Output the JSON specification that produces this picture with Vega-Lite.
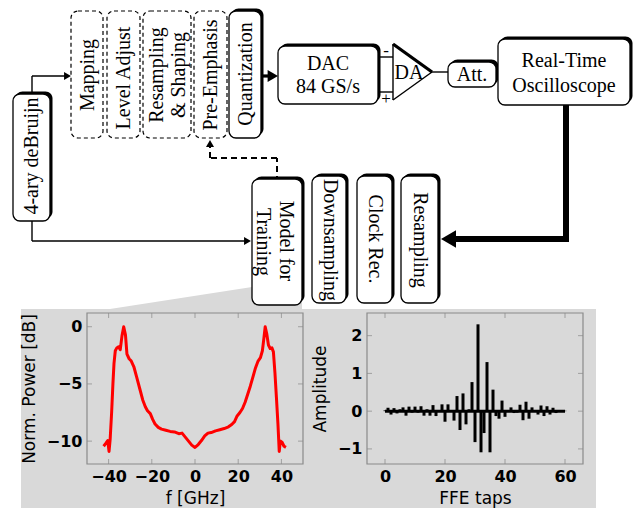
{
  "$schema": "https://vega.github.io/schema/vega-lite/v6.json",
  "width": 634,
  "height": 508,
  "autosize": {"type": "none"},
  "padding": 0,
  "background": "white",
  "config": {
    "view": {"stroke": null},
    "axis": {"labelFont": "DejaVu Sans", "labelFontWeight": "bold", "labelFontSize": 16, "labelColor": "black", "titleFont": "DejaVu Sans", "titleFontWeight": "normal", "titleFontSize": 17, "titleColor": "black", "ticks": false, "domain": false, "grid": false, "labelFlush": false}
  },
  "datasets": {
    "panel": [{"x1": 21, "x2": 596, "y1": 309, "y2": 508}],
    "wedge": [{"x": 110, "top": 309, "bottom": 309}, {"x": 252, "top": 287, "bottom": 309}, {"x": 302, "top": 287, "bottom": 309}],
    "boxes": [
      {"name": "4-ary deBruijn", "stage": "block", "x1": 13, "x2": 50, "y1": 94, "y2": 221},
      {"name": "Mapping", "stage": "dsp", "x1": 71, "x2": 103, "y1": 11, "y2": 138},
      {"name": "Level Adjust", "stage": "dsp", "x1": 107, "x2": 140, "y1": 11, "y2": 138},
      {"name": "Resampling & Shaping", "stage": "dsp", "x1": 143, "x2": 191, "y1": 11, "y2": 138},
      {"name": "Pre-Emphasis", "stage": "dsp", "x1": 194, "x2": 227, "y1": 11, "y2": 138},
      {"name": "Quantization", "stage": "block", "x1": 229, "x2": 261, "y1": 11, "y2": 138},
      {"name": "DAC", "stage": "block", "x1": 278, "x2": 378, "y1": 46, "y2": 104},
      {"name": "Att.", "stage": "block", "x1": 448, "x2": 496, "y1": 62, "y2": 87},
      {"name": "Real-Time Oscilloscope", "stage": "block", "x1": 498, "x2": 630, "y1": 39, "y2": 105},
      {"name": "Model for Training", "stage": "block", "x1": 252, "x2": 302, "y1": 179, "y2": 305},
      {"name": "Downsampling", "stage": "block", "x1": 312, "x2": 346, "y1": 176, "y2": 303},
      {"name": "Clock Rec.", "stage": "block", "x1": 357, "x2": 392, "y1": 176, "y2": 303},
      {"name": "Resampling", "stage": "block", "x1": 401, "x2": 438, "y1": 176, "y2": 303}
    ],
    "lines": [
      {"x1": 32, "y1": 100, "x2": 32, "y2": 76, "kind": "signal"},
      {"x1": 32, "y1": 76, "x2": 68, "y2": 76, "kind": "signal"},
      {"x1": 32, "y1": 215, "x2": 32, "y2": 241, "kind": "signal"},
      {"x1": 32, "y1": 241, "x2": 248, "y2": 241, "kind": "signal"},
      {"x1": 378, "y1": 57, "x2": 393, "y2": 57, "kind": "signal"},
      {"x1": 378, "y1": 92, "x2": 393, "y2": 92, "kind": "signal"},
      {"x1": 393, "y1": 44, "x2": 393, "y2": 100, "kind": "signal"},
      {"x1": 393, "y1": 100, "x2": 432, "y2": 72, "kind": "signal"},
      {"x1": 432, "y1": 72, "x2": 450, "y2": 72, "kind": "signal"},
      {"x1": 393, "y1": 44, "x2": 432, "y2": 72, "kind": "drive"},
      {"x1": 258, "y1": 76, "x2": 273, "y2": 76, "kind": "drive"},
      {"x1": 566, "y1": 100, "x2": 566, "y2": 239, "kind": "main"},
      {"x1": 566, "y1": 239, "x2": 449, "y2": 239, "kind": "main"},
      {"x1": 277, "y1": 182, "x2": 277, "y2": 158, "kind": "feedback"},
      {"x1": 277, "y1": 158, "x2": 210, "y2": 158, "kind": "feedback"},
      {"x1": 210, "y1": 158, "x2": 210, "y2": 145, "kind": "feedback"}
    ],
    "arrows": [
      {"x": 67.5, "y": 76, "dir": "right", "kind": "signal"},
      {"x": 247.5, "y": 241, "dir": "right", "kind": "signal"},
      {"x": 210, "y": 143.5, "dir": "up", "kind": "signal"},
      {"x": 272.8, "y": 76, "dir": "right", "kind": "drive"},
      {"x": 448.5, "y": 239, "dir": "left", "kind": "main"}
    ],
    "texts": [
      {"label": "4-ary deBruijn", "x": 32, "y": 156, "orient": "up"},
      {"label": "Mapping", "x": 88, "y": 75, "orient": "up"},
      {"label": "Level Adjust", "x": 124, "y": 78, "orient": "up"},
      {"label": "Resampling", "x": 157, "y": 75, "orient": "up"},
      {"label": "& Shaping", "x": 179, "y": 75, "orient": "up"},
      {"label": "Pre-Emphasis", "x": 211, "y": 75, "orient": "up"},
      {"label": "Quantization", "x": 246, "y": 74, "orient": "up"},
      {"label": "DAC", "x": 328, "y": 64, "orient": "h"},
      {"label": "84 GS/s", "x": 328, "y": 87, "orient": "h"},
      {"label": "DA", "x": 409, "y": 73, "orient": "h"},
      {"label": "Att.", "x": 472, "y": 75, "orient": "h"},
      {"label": "Real-Time", "x": 564, "y": 61, "orient": "h"},
      {"label": "Oscilloscope", "x": 564, "y": 86, "orient": "h"},
      {"label": "Model for", "x": 286, "y": 241, "orient": "down"},
      {"label": "Training", "x": 263, "y": 242, "orient": "down"},
      {"label": "Downsampling", "x": 330, "y": 240, "orient": "down"},
      {"label": "Clock Rec.", "x": 375, "y": 239, "orient": "down"},
      {"label": "Resampling", "x": 420, "y": 240, "orient": "down"}
    ],
    "signs": [
      {"label": "-", "x": 386, "y": 51},
      {"label": "+", "x": 386, "y": 99}
    ],
    "spectrum": [
      {"f": -42.3, "db": -10.45}, {"f": -41.3, "db": -10.2}, {"f": -40.4, "db": -9.95}, {"f": -39.8, "db": -10.9}, {"f": -39.3, "db": -9.9},
      {"f": -38.6, "db": -7.5}, {"f": -38.0, "db": -5.0}, {"f": -37.5, "db": -3.2}, {"f": -36.9, "db": -2.1}, {"f": -36.2, "db": -1.85},
      {"f": -35.4, "db": -1.75}, {"f": -34.6, "db": -2.0}, {"f": -33.8, "db": -0.8}, {"f": -33.0, "db": 0.0}, {"f": -32.2, "db": -0.7},
      {"f": -31.5, "db": -2.4}, {"f": -30.5, "db": -2.8}, {"f": -29.5, "db": -3.0}, {"f": -28.3, "db": -3.5}, {"f": -27.0, "db": -4.4},
      {"f": -25.6, "db": -5.4}, {"f": -24.2, "db": -6.4}, {"f": -23.0, "db": -7.0}, {"f": -22.0, "db": -7.35}, {"f": -20.7, "db": -7.6},
      {"f": -19.6, "db": -8.1}, {"f": -18.5, "db": -8.5}, {"f": -17.0, "db": -8.8}, {"f": -15.5, "db": -8.95}, {"f": -13.5, "db": -9.05},
      {"f": -11.5, "db": -9.15}, {"f": -9.5, "db": -9.2}, {"f": -7.5, "db": -9.35}, {"f": -6.0, "db": -9.3}, {"f": -4.5, "db": -9.65},
      {"f": -3.0, "db": -10.0}, {"f": -1.5, "db": -10.35}, {"f": 0.0, "db": -10.55}, {"f": 1.5, "db": -10.3}, {"f": 3.0, "db": -9.95},
      {"f": 4.5, "db": -9.55}, {"f": 6.0, "db": -9.3}, {"f": 7.5, "db": -9.25}, {"f": 9.5, "db": -9.1}, {"f": 11.5, "db": -9.0},
      {"f": 13.5, "db": -8.9}, {"f": 15.5, "db": -8.75}, {"f": 17.0, "db": -8.55}, {"f": 18.3, "db": -8.3}, {"f": 19.5, "db": -7.8},
      {"f": 20.8, "db": -7.5}, {"f": 22.0, "db": -7.15}, {"f": 23.2, "db": -6.6}, {"f": 24.4, "db": -5.9}, {"f": 25.6, "db": -5.2},
      {"f": 26.8, "db": -4.4}, {"f": 28.0, "db": -3.6}, {"f": 29.2, "db": -3.0}, {"f": 30.3, "db": -2.7}, {"f": 31.2, "db": -2.1},
      {"f": 31.9, "db": -1.0}, {"f": 32.5, "db": 0.0}, {"f": 33.2, "db": -0.6}, {"f": 34.0, "db": -1.6}, {"f": 34.8, "db": -1.9},
      {"f": 35.6, "db": -1.85}, {"f": 36.3, "db": -2.2}, {"f": 37.0, "db": -4.0}, {"f": 37.7, "db": -6.2}, {"f": 38.4, "db": -8.5},
      {"f": 39.0, "db": -10.9}, {"f": 39.5, "db": -10.0}, {"f": 40.3, "db": -10.1}, {"f": 41.2, "db": -10.45}, {"f": 42.1, "db": -10.55}
    ],
    "taps": [
      {"tap": 0, "amp": 0.02}, {"tap": 1, "amp": 0.09}, {"tap": 2, "amp": -0.09}, {"tap": 3, "amp": 0.08}, {"tap": 4, "amp": -0.06},
      {"tap": 5, "amp": 0.05}, {"tap": 6, "amp": 0.1}, {"tap": 7, "amp": -0.12}, {"tap": 8, "amp": 0.12}, {"tap": 9, "amp": -0.04},
      {"tap": 10, "amp": 0.12}, {"tap": 11, "amp": -0.04}, {"tap": 12, "amp": 0.13}, {"tap": 13, "amp": -0.12}, {"tap": 14, "amp": 0.05},
      {"tap": 15, "amp": -0.12}, {"tap": 16, "amp": 0.16}, {"tap": 17, "amp": -0.13}, {"tap": 18, "amp": 0.02}, {"tap": 19, "amp": 0.18},
      {"tap": 20, "amp": -0.28}, {"tap": 21, "amp": 0.18}, {"tap": 22, "amp": 0.02}, {"tap": 23, "amp": -0.25}, {"tap": 24, "amp": 0.4},
      {"tap": 25, "amp": -0.5}, {"tap": 26, "amp": 0.47}, {"tap": 27, "amp": -0.35}, {"tap": 28, "amp": 0.05}, {"tap": 29, "amp": 0.77},
      {"tap": 30, "amp": -0.82}, {"tap": 31, "amp": 2.3}, {"tap": 32, "amp": -1.09}, {"tap": 33, "amp": -0.58}, {"tap": 34, "amp": 1.3},
      {"tap": 35, "amp": -1.09}, {"tap": 36, "amp": 0.57}, {"tap": 37, "amp": -0.13}, {"tap": 38, "amp": -0.2}, {"tap": 39, "amp": 0.28},
      {"tap": 40, "amp": -0.15}, {"tap": 41, "amp": 0.03}, {"tap": 42, "amp": 0.1}, {"tap": 43, "amp": -0.05}, {"tap": 44, "amp": -0.04},
      {"tap": 45, "amp": 0.17}, {"tap": 46, "amp": -0.24}, {"tap": 47, "amp": 0.25}, {"tap": 48, "amp": -0.2}, {"tap": 49, "amp": 0.1},
      {"tap": 50, "amp": 0.03}, {"tap": 51, "amp": -0.09}, {"tap": 52, "amp": 0.15}, {"tap": 53, "amp": -0.13}, {"tap": 54, "amp": 0.13},
      {"tap": 55, "amp": -0.09}, {"tap": 56, "amp": 0.09}, {"tap": 57, "amp": -0.05}, {"tap": 58, "amp": 0.01}, {"tap": 59, "amp": 0.01},
      {"tap": 60, "amp": 0.01}
    ],
    "fTicks": [{"v": -40}, {"v": -20}, {"v": 0}, {"v": 20}, {"v": 40}],
    "dbTicks": [{"v": -10}, {"v": -5}, {"v": 0}],
    "tapTicks": [{"v": 0}, {"v": 20}, {"v": 40}, {"v": 60}],
    "ampTicks": [{"v": -1}, {"v": 0}, {"v": 1}, {"v": 2}]
  },
  "layer": [
    {
      "layer": [
        {
          "data": {"name": "panel"},
          "mark": {"type": "rect", "color": "#d9d9d9"},
          "encoding": {
            "x": {"field": "x1", "type": "quantitative", "scale": {"domain": [0, 634], "range": [0, 634], "nice": false, "zero": false}, "axis": null},
            "x2": {"field": "x2"},
            "y": {"field": "y1", "type": "quantitative", "scale": {"domain": [0, 508], "range": [0, 508], "nice": false, "zero": false}, "axis": null},
            "y2": {"field": "y2"}
          }
        },
        {
          "data": {"name": "wedge"},
          "mark": {"type": "area", "color": "#d9d9d9", "orient": "vertical"},
          "encoding": {
            "x": {"field": "x", "type": "quantitative"},
            "y": {"field": "top", "type": "quantitative"},
            "y2": {"field": "bottom"}
          }
        },
        {
          "data": {"name": "lines"},
          "transform": [{"filter": "datum.kind === 'signal'"}],
          "mark": {"type": "rule", "color": "black", "strokeWidth": 1.4},
          "encoding": {
            "x": {"field": "x1", "type": "quantitative"}, "x2": {"field": "x2"},
            "y": {"field": "y1", "type": "quantitative"}, "y2": {"field": "y2"}
          }
        },
        {
          "data": {"name": "lines"},
          "transform": [{"filter": "datum.kind === 'drive'"}],
          "mark": {"type": "rule", "color": "black", "strokeWidth": 3.2},
          "encoding": {
            "x": {"field": "x1", "type": "quantitative"}, "x2": {"field": "x2"},
            "y": {"field": "y1", "type": "quantitative"}, "y2": {"field": "y2"}
          }
        },
        {
          "data": {"name": "lines"},
          "transform": [{"filter": "datum.kind === 'main'"}],
          "mark": {"type": "rule", "color": "black", "strokeWidth": 6, "strokeCap": "square"},
          "encoding": {
            "x": {"field": "x1", "type": "quantitative"}, "x2": {"field": "x2"},
            "y": {"field": "y1", "type": "quantitative"}, "y2": {"field": "y2"}
          }
        },
        {
          "data": {"name": "lines"},
          "transform": [{"filter": "datum.kind === 'feedback'"}],
          "mark": {"type": "rule", "color": "black", "strokeWidth": 2, "strokeDash": [6, 4]},
          "encoding": {
            "x": {"field": "x1", "type": "quantitative"}, "x2": {"field": "x2"},
            "y": {"field": "y1", "type": "quantitative"}, "y2": {"field": "y2"}
          }
        },
        {
          "data": {"name": "boxes"},
          "transform": [{"filter": "datum.stage === 'block'"}],
          "mark": {"type": "rect", "color": "black", "cornerRadius": 7, "xOffset": 2.5, "x2Offset": 2.5, "yOffset": -2.5, "y2Offset": -2.5},
          "encoding": {
            "x": {"field": "x1", "type": "quantitative"}, "x2": {"field": "x2"},
            "y": {"field": "y1", "type": "quantitative"}, "y2": {"field": "y2"}
          }
        },
        {
          "data": {"name": "boxes"},
          "transform": [{"filter": "datum.stage === 'block'"}],
          "mark": {"type": "rect", "fill": "white", "stroke": "black", "strokeWidth": 1.3, "cornerRadius": 7},
          "encoding": {
            "x": {"field": "x1", "type": "quantitative"}, "x2": {"field": "x2"},
            "y": {"field": "y1", "type": "quantitative"}, "y2": {"field": "y2"}
          }
        },
        {
          "data": {"name": "boxes"},
          "transform": [{"filter": "datum.stage === 'dsp'"}],
          "mark": {"type": "rect", "fill": "white", "stroke": "black", "strokeWidth": 1.2, "strokeDash": [4, 3], "cornerRadius": 7},
          "encoding": {
            "x": {"field": "x1", "type": "quantitative"}, "x2": {"field": "x2"},
            "y": {"field": "y1", "type": "quantitative"}, "y2": {"field": "y2"}
          }
        },
        {
          "data": {"name": "arrows"},
          "transform": [{"filter": "datum.kind === 'signal'"}],
          "mark": {"type": "point", "filled": true, "color": "black", "size": 64, "opacity": 1},
          "encoding": {
            "x": {"field": "x", "type": "quantitative"},
            "y": {"field": "y", "type": "quantitative"},
            "shape": {"field": "dir", "type": "nominal", "scale": {"domain": ["right", "left", "up"], "range": ["triangle-right", "triangle-left", "triangle-up"]}, "legend": null}
          }
        },
        {
          "data": {"name": "arrows"},
          "transform": [{"filter": "datum.kind === 'drive'"}],
          "mark": {"type": "point", "filled": true, "color": "black", "size": 144, "opacity": 1},
          "encoding": {
            "x": {"field": "x", "type": "quantitative"},
            "y": {"field": "y", "type": "quantitative"},
            "shape": {"field": "dir", "type": "nominal", "legend": null}
          }
        },
        {
          "data": {"name": "arrows"},
          "transform": [{"filter": "datum.kind === 'main'"}],
          "mark": {"type": "point", "filled": true, "color": "black", "size": 300, "opacity": 1},
          "encoding": {
            "x": {"field": "x", "type": "quantitative"},
            "y": {"field": "y", "type": "quantitative"},
            "shape": {"field": "dir", "type": "nominal", "legend": null}
          }
        },
        {
          "data": {"name": "texts"},
          "transform": [{"filter": "datum.orient === 'h'"}],
          "mark": {"type": "text", "font": "Liberation Serif", "fontSize": 20, "color": "black", "align": "center", "baseline": "middle"},
          "encoding": {
            "x": {"field": "x", "type": "quantitative"},
            "y": {"field": "y", "type": "quantitative"},
            "text": {"field": "label"}
          }
        },
        {
          "data": {"name": "texts"},
          "transform": [{"filter": "datum.orient === 'up'"}],
          "mark": {"type": "text", "font": "Liberation Serif", "fontSize": 20, "color": "black", "align": "center", "baseline": "middle", "angle": 270},
          "encoding": {
            "x": {"field": "x", "type": "quantitative"},
            "y": {"field": "y", "type": "quantitative"},
            "text": {"field": "label"}
          }
        },
        {
          "data": {"name": "texts"},
          "transform": [{"filter": "datum.orient === 'down'"}],
          "mark": {"type": "text", "font": "Liberation Serif", "fontSize": 20, "color": "black", "align": "center", "baseline": "middle", "angle": 90},
          "encoding": {
            "x": {"field": "x", "type": "quantitative"},
            "y": {"field": "y", "type": "quantitative"},
            "text": {"field": "label"}
          }
        },
        {
          "data": {"name": "signs"},
          "mark": {"type": "text", "font": "Liberation Serif", "fontSize": 17, "color": "black", "align": "center", "baseline": "middle"},
          "encoding": {
            "x": {"field": "x", "type": "quantitative"},
            "y": {"field": "y", "type": "quantitative"},
            "text": {"field": "label"}
          }
        }
      ]
    },
    {
      "layer": [
        {
          "data": {"name": "spectrum"},
          "mark": {"type": "line", "color": "#ff0000", "strokeWidth": 3, "strokeJoin": "round"},
          "encoding": {
            "x": {"field": "f", "type": "quantitative", "scale": {"domain": [-50, 50], "range": [87, 303], "nice": false, "zero": false},
                  "axis": {"orient": "bottom", "zindex": 2, "offset": -44, "values": [-40, -20, 0, 20, 40], "format": "~g", "title": "f [GHz]", "labelPadding": 4, "titlePadding": 6}},
            "y": {"field": "db", "type": "quantitative", "scale": {"domain": [-12, 1.2], "range": [464, 313], "nice": false, "zero": false},
                  "axis": {"orient": "left", "zindex": 2, "offset": -87, "values": [-10, -5, 0], "format": "~g", "title": "Norm. Power [dB]", "labelPadding": 5, "titlePadding": 8}}
          }
        },
        {
          "data": {"name": "fTicks"},
          "mark": {"type": "tick", "orient": "vertical", "color": "#888888", "size": 5, "thickness": 1, "yOffset": 2.5},
          "encoding": {"x": {"field": "v", "type": "quantitative"}, "y": {"datum": 1.2}}
        },
        {
          "data": {"name": "fTicks"},
          "mark": {"type": "tick", "orient": "vertical", "color": "#888888", "size": 5, "thickness": 1, "yOffset": -2.5},
          "encoding": {"x": {"field": "v", "type": "quantitative"}, "y": {"datum": -12}}
        },
        {
          "data": {"name": "dbTicks"},
          "mark": {"type": "tick", "orient": "horizontal", "color": "#888888", "size": 5, "thickness": 1, "xOffset": 2.5},
          "encoding": {"y": {"field": "v", "type": "quantitative"}, "x": {"datum": -50}}
        },
        {
          "data": {"name": "dbTicks"},
          "mark": {"type": "tick", "orient": "horizontal", "color": "#888888", "size": 5, "thickness": 1, "xOffset": -2.5},
          "encoding": {"y": {"field": "v", "type": "quantitative"}, "x": {"datum": 50}}
        },
        {
          "data": {"name": "panel"},
          "mark": {"type": "rect", "filled": false, "color": "#8a8a8a", "strokeWidth": 1.2},
          "encoding": {"x": {"datum": -50}, "x2": {"datum": 50}, "y": {"datum": -12}, "y2": {"datum": 1.2}}
        }
      ]
    },
    {
      "layer": [
        {
          "data": {"name": "taps"},
          "mark": {"type": "rule", "color": "black", "strokeWidth": 3},
          "encoding": {
            "x": {"field": "tap", "type": "quantitative", "scale": {"domain": [-6, 66], "range": [367, 583], "nice": false, "zero": false},
                  "axis": {"orient": "bottom", "zindex": 2, "offset": -44, "values": [0, 20, 40, 60], "format": "~g", "title": "FFE taps", "labelPadding": 4, "titlePadding": 6}},
            "y": {"field": "amp", "type": "quantitative", "scale": {"domain": [-1.4, 2.6], "range": [464, 313], "nice": false, "zero": false},
                  "axis": {"orient": "left", "zindex": 2, "offset": -367, "values": [-1, 0, 1, 2], "format": "~g", "title": "Amplitude", "labelPadding": 5, "titlePadding": 8}},
            "y2": {"datum": 0}
          }
        },
        {
          "data": {"name": "panel"},
          "mark": {"type": "rule", "color": "black", "strokeWidth": 3},
          "encoding": {"x": {"datum": 0}, "x2": {"datum": 60}, "y": {"datum": 0}}
        },
        {
          "data": {"name": "tapTicks"},
          "mark": {"type": "tick", "orient": "vertical", "color": "#888888", "size": 5, "thickness": 1, "yOffset": 2.5},
          "encoding": {"x": {"field": "v", "type": "quantitative"}, "y": {"datum": 2.6}}
        },
        {
          "data": {"name": "tapTicks"},
          "mark": {"type": "tick", "orient": "vertical", "color": "#888888", "size": 5, "thickness": 1, "yOffset": -2.5},
          "encoding": {"x": {"field": "v", "type": "quantitative"}, "y": {"datum": -1.4}}
        },
        {
          "data": {"name": "ampTicks"},
          "mark": {"type": "tick", "orient": "horizontal", "color": "#888888", "size": 5, "thickness": 1, "xOffset": 2.5},
          "encoding": {"y": {"field": "v", "type": "quantitative"}, "x": {"datum": -6}}
        },
        {
          "data": {"name": "ampTicks"},
          "mark": {"type": "tick", "orient": "horizontal", "color": "#888888", "size": 5, "thickness": 1, "xOffset": -2.5},
          "encoding": {"y": {"field": "v", "type": "quantitative"}, "x": {"datum": 66}}
        },
        {
          "data": {"name": "panel"},
          "mark": {"type": "rect", "filled": false, "color": "#8a8a8a", "strokeWidth": 1.2},
          "encoding": {"x": {"datum": -6}, "x2": {"datum": 66}, "y": {"datum": -1.4}, "y2": {"datum": 2.6}}
        }
      ]
    }
  ],
  "resolve": {"scale": {"x": "independent", "y": "independent"}, "axis": {"x": "independent", "y": "independent"}}
}
